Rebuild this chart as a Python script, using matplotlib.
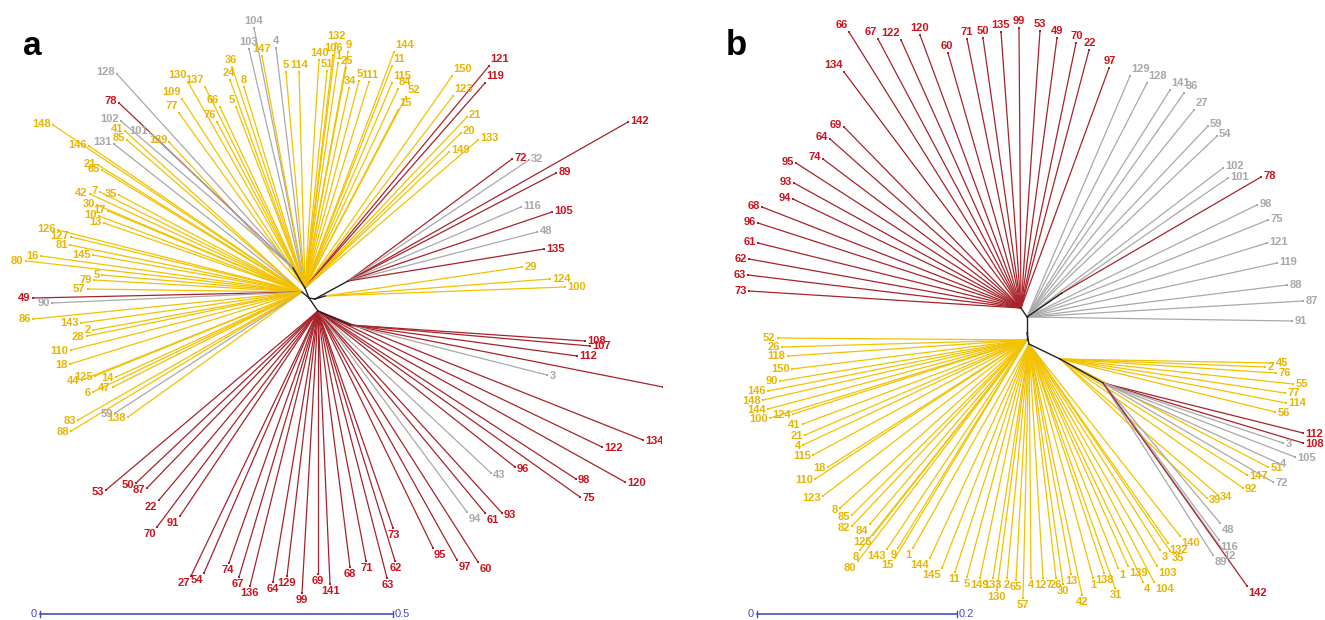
import numpy as np
import matplotlib
matplotlib.use("Agg")
import matplotlib.pyplot as plt

plt.rcParams["font.family"] = ["Liberation Sans", "DejaVu Sans"]

# colour groups: r = red, y = yellow, g = grey
LINE_COL = {"r": "#a8232b", "y": "#f2c200", "g": "#a9a9a9"}
TEXT_COL = {"r": "#d0121c", "y": "#e8b500", "g": "#a8a8a8"}
BAR_COL = "#4a4ac8"

# ---------------- panel a ----------------
# internal nodes: name -> (x, y, parent), layout units of the tree drawing
a_nodes = {
    "hub": (309, 298, None),
    "up": (305, 288, "hub"),
    "ul": (293, 268, "up"),
    "left": (302, 292, "hub"),
    "r0": (315, 299, "hub"),
    "right": (348, 281, "r0"),
    "right2": (325, 296, "r0"),
    "low": (318, 311, "hub"),
    "lowr": (350, 325, "low"),
}

# leaves: (label, group, tip x, tip y)
a_up = [
    ("104", "g", 254, 28), ("103", "g", 249, 49), ("4", "g", 276, 48),
    ("147", "y", 262, 56), ("36", "y", 232, 67), ("24", "y", 230, 80),
    ("8", "y", 244, 87), ("130", "y", 188, 82), ("137", "y", 205, 87),
    ("109", "y", 182, 99), ("77", "y", 179, 113), ("66", "y", 220, 107),
    ("5", "y", 236, 107), ("76", "y", 217, 122), ("5", "y", 286, 72),
    ("114", "y", 299, 72), ("140", "y", 319, 60), ("132", "y", 336, 43),
    ("106", "y", 333, 55), ("9", "y", 348, 52), ("51", "y", 327, 71),
    ("1", "y", 338, 63), ("25", "y", 346, 68), ("34", "y", 349, 88),
    ("5", "y", 359, 81), ("111", "y", 369, 82), ("144", "y", 394, 52),
    ("11", "y", 392, 66), ("115", "y", 392, 83), ("84", "y", 398, 89),
    ("52", "y", 406, 97), ("15", "y", 398, 110), ("150", "y", 452, 76),
    ("123", "y", 453, 96), ("121", "r", 489, 66), ("119", "r", 485, 83),
    ("21", "y", 467, 117), ("20", "y", 461, 133), ("133", "y", 478, 140),
    ("149", "y", 449, 152), ("139", "y", 169, 142),
]
a_upleft = [
    ("128", "g", 117, 74), ("78", "r", 119, 103), ("102", "g", 121, 121),
    ("101", "g", 150, 133),
]
a_left = [
    ("148", "y", 53, 125), ("146", "y", 89, 146), ("131", "g", 114, 144),
    ("41", "y", 125, 131), ("85", "y", 127, 140), ("21", "y", 98, 165),
    ("65", "y", 102, 170), ("42", "y", 90, 194), ("7", "y", 100, 192),
    ("35", "y", 119, 195), ("30", "y", 97, 205), ("10", "y", 99, 216),
    ("17", "y", 108, 211), ("13", "y", 104, 223), ("126", "y", 58, 230),
    ("81", "y", 70, 245), ("127", "y", 71, 237), ("145", "y", 93, 255),
    ("16", "y", 41, 256), ("80", "y", 26, 261), ("5", "y", 102, 275),
    ("79", "y", 94, 280), ("57", "y", 88, 289), ("49", "r", 33, 298),
    ("90", "g", 52, 303), ("86", "y", 33, 319), ("143", "y", 81, 323),
    ("2", "y", 93, 330), ("28", "y", 87, 336), ("110", "y", 71, 350),
    ("18", "y", 70, 364), ("44", "y", 82, 380), ("125", "y", 95, 376),
    ("14", "y", 116, 377), ("6", "y", 93, 392), ("47", "y", 113, 387),
    ("83", "y", 78, 420), ("88", "y", 71, 431), ("59", "g", 115, 413),
    ("138", "y", 128, 417),
]
a_low = [
    ("53", "r", 106, 490), ("50", "r", 136, 483), ("87", "r", 147, 488),
    ("22", "r", 159, 500), ("70", "r", 157, 527), ("91", "r", 180, 516),
    ("27", "r", 191, 576), ("54", "r", 204, 573), ("74", "r", 229, 563),
    ("67", "r", 239, 577), ("136", "r", 250, 586), ("64", "r", 273, 582),
    ("129", "r", 287, 576), ("99", "r", 302, 593), ("69", "r", 318, 574),
    ("141", "r", 330, 584), ("68", "r", 350, 567), ("71", "r", 366, 561),
    ("63", "r", 387, 578), ("62", "r", 395, 561), ("73", "r", 393, 528),
    ("95", "r", 433, 548), ("97", "r", 457, 560), ("60", "r", 478, 562),
    ("94", "g", 467, 512), ("61", "r", 485, 513), ("93", "r", 502, 513),
    ("43", "g", 491, 473), ("96", "r", 515, 467), ("75", "r", 580, 497),
    ("98", "r", 576, 479), ("120", "r", 625, 482), ("122", "r", 602, 447),
    ("134", "r", 643, 440),
]
a_lowright = [
    ("66", "r", 663, 387), ("3", "g", 547, 375), ("108", "r", 585, 341),
    ("107", "r", 590, 346), ("112", "r", 577, 356),
]
a_right = [
    ("72", "r", 512, 159), ("32", "g", 529, 160), ("142", "r", 628, 122),
    ("89", "r", 556, 173), ("116", "g", 521, 207), ("105", "r", 552, 212),
    ("48", "g", 537, 232), ("135", "r", 544, 249),
]
a_right2 = [
    ("29", "y", 522, 267), ("124", "y", 550, 279), ("100", "y", 565, 287),
]
a_clades = [("up", a_up), ("ul", a_upleft), ("left", a_left),
            ("low", a_low), ("lowr", a_lowright), ("right", a_right),
            ("right2", a_right2)]

# ---------------- panel b ----------------
b_nodes = {
    "hub": (1027, 333, None),
    "gnode": (1027, 317, "hub"),
    "red": (1021, 308, "gnode"),
    "b78": (1062, 293, "gnode"),
    "yl": (1027, 340, "hub"),
    "yb": (1029, 344, "hub"),
    "rt1": (1060, 359, "yb"),
    "rt2": (1103, 383, "rt1"),
}

b_red = [
    ("66", "r", 849, 32), ("67", "r", 878, 39), ("122", "r", 901, 40),
    ("120", "r", 920, 35), ("60", "r", 948, 53), ("71", "r", 967, 39),
    ("50", "r", 983, 38), ("135", "r", 1001, 32), ("99", "r", 1019, 28),
    ("53", "r", 1040, 31), ("49", "r", 1057, 38), ("70", "r", 1076, 43),
    ("22", "r", 1089, 50), ("97", "r", 1109, 68), ("134", "r", 844, 72),
    ("69", "r", 844, 127), ("64", "r", 830, 139), ("74", "r", 823, 159),
    ("95", "r", 796, 163), ("93", "r", 794, 183), ("94", "r", 793, 199),
    ("68", "r", 762, 207), ("96", "r", 758, 223), ("61", "r", 758, 243),
    ("62", "r", 749, 259), ("63", "r", 748, 275), ("73", "r", 749, 291),
]
b_grey = [
    ("129", "g", 1130, 76), ("128", "g", 1147, 83), ("141", "g", 1170, 90),
    ("36", "g", 1184, 93), ("27", "g", 1194, 110), ("59", "g", 1208, 126),
    ("54", "g", 1217, 136), ("102", "g", 1223, 168), ("101", "g", 1228, 178),
    ("98", "g", 1257, 205), ("75", "g", 1268, 220), ("121", "g", 1267, 243),
    ("119", "g", 1277, 263), ("88", "g", 1287, 285), ("87", "g", 1303, 301),
    ("91", "g", 1292, 321),
]
b_78 = [("78", "r", 1261, 177)]
b_yleft = [
    ("52", "y", 778, 338), ("26", "y", 782, 347), ("118", "y", 788, 356),
    ("150", "y", 792, 369), ("90", "y", 780, 381), ("146", "y", 768, 391),
    ("148", "y", 763, 400), ("144", "y", 768, 409), ("100", "y", 770, 418),
    ("124", "y", 793, 414), ("41", "y", 803, 424), ("21", "y", 805, 435),
    ("4", "y", 803, 445), ("115", "y", 813, 455), ("18", "y", 828, 467),
    ("110", "y", 815, 479), ("123", "y", 823, 496), ("8", "y", 840, 508),
    ("85", "y", 852, 515), ("82", "y", 852, 526), ("84", "y", 870, 524),
    ("125", "y", 873, 535), ("8", "y", 860, 550), ("143", "y", 887, 549),
    ("80", "y", 858, 561), ("9", "y", 898, 548), ("15", "y", 895, 558),
]
b_ybottom = [
    ("1", "y", 913, 548), ("144", "y", 930, 558), ("145", "y", 942, 568),
    ("11", "y", 955, 572), ("5", "y", 967, 577), ("149", "y", 980, 578),
    ("133", "y", 993, 578), ("130", "y", 997, 590), ("2", "y", 1007, 578),
    ("65", "y", 1016, 580), ("57", "y", 1023, 598), ("4", "y", 1031, 578),
    ("127", "y", 1043, 578), ("26", "y", 1056, 578), ("30", "y", 1063, 584),
    ("13", "y", 1071, 574), ("42", "y", 1082, 595), ("1", "y", 1093, 578),
    ("138", "y", 1104, 573), ("31", "y", 1115, 588), ("1", "y", 1118, 568),
    ("139", "y", 1128, 566), ("4", "y", 1143, 582), ("104", "y", 1154, 582),
    ("103", "y", 1157, 566), ("3", "y", 1160, 550), ("35", "y", 1170, 551),
    ("132", "y", 1168, 543), ("140", "y", 1180, 536),
]
b_right = [
    ("45", "y", 1273, 363), ("2", "y", 1265, 367), ("76", "y", 1276, 373),
    ("55", "y", 1293, 384), ("77", "y", 1285, 393), ("114", "y", 1286, 403),
    ("56", "y", 1275, 412), ("51", "y", 1268, 467), ("147", "y", 1247, 475),
    ("92", "y", 1243, 488), ("34", "y", 1218, 495), ("39", "y", 1207, 498),
]
b_right2 = [
    ("112", "r", 1303, 433), ("108", "r", 1303, 443), ("3", "g", 1283, 443),
    ("105", "g", 1295, 457), ("4", "g", 1278, 463), ("72", "g", 1273, 482),
    ("48", "g", 1220, 523), ("116", "g", 1219, 540), ("12", "g", 1222, 549),
    ("89", "g", 1213, 555), ("142", "r", 1247, 586),
]
b_clades = [("red", b_red), ("gnode", b_grey), ("b78", b_78),
            ("yl", b_yleft), ("yb", b_ybottom), ("rt1", b_right),
            ("rt2", b_right2)]


def draw_tree(ax, nodes, clades):
    for node, leaves in clades:
        nx, ny, _ = nodes[node]
        for lab, grp, tx, ty in leaves:
            ax.plot([nx, tx], [ny, ty], color=LINE_COL[grp], lw=0.9,
                    solid_capstyle="butt", zorder=2)
            ax.plot(tx, ty, "s", ms=1.8, mew=0, color=LINE_COL[grp],
                    zorder=3)
            d = np.array([tx - nx, ty - ny], float)
            u = d / np.hypot(*d)
            ha = "right" if u[0] < -0.35 else ("left" if u[0] > 0.35
                                               else "center")
            va = "bottom" if -u[1] > 0.75 else ("top" if -u[1] < -0.75
                                                else "center")
            ax.text(tx + 2.5 * u[0], ty + 2.5 * u[1], lab, ha=ha, va=va,
                    fontsize=8, fontweight="bold", color=TEXT_COL[grp],
                    clip_on=True, zorder=4)
    for name, (x, y, parent) in nodes.items():
        if parent is not None:
            px, py, _ = nodes[parent]
            ax.plot([px, x], [py, y], color="#222222", lw=1.0, zorder=5)


def scale_bar(ax, x0, y, length, px_per_unit, label):
    x1 = x0 + length * px_per_unit
    ax.plot([x0, x1], [y, y], color=BAR_COL, lw=1.2)
    for xx in (x0, x1):
        ax.plot([xx, xx], [y - 3, y + 3], color=BAR_COL, lw=1.0)
    ax.text(x0 - 3, y, "0", ha="right", va="center", fontsize=8,
            color=BAR_COL)
    ax.text(x1 + 2, y, label, ha="left", va="center", fontsize=8,
            color=BAR_COL)


fig = plt.figure(figsize=(13.25, 6.2), dpi=100)
ax_a = fig.add_axes([0, 0, 662 / 1325, 1])
ax_b = fig.add_axes([662 / 1325, 0, 663 / 1325, 1])
ax_a.set_xlim(0, 662)
ax_b.set_xlim(662, 1325)
for ax in (ax_a, ax_b):
    ax.set_ylim(620, 0)
    ax.axis("off")

draw_tree(ax_a, a_nodes, a_clades)
draw_tree(ax_b, b_nodes, b_clades)

scale_bar(ax_a, 40, 614, 0.5, 706, "0.5")
scale_bar(ax_b, 757, 614, 0.2, 1000, "0.2")

ax_a.text(32, 55, "a", ha="center", va="baseline", fontsize=24,
          fontweight="bold")
ax_b.text(736, 55, "b", ha="center", va="baseline", fontsize=25,
          fontweight="bold")

fig.savefig("out.png", dpi=100)
